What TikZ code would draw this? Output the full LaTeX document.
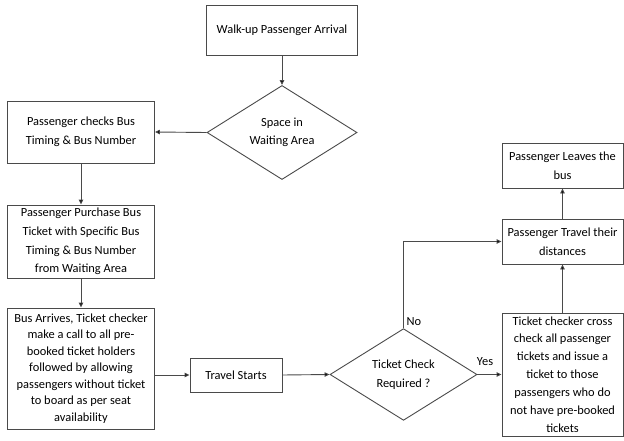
\documentclass[tikz,border=0pt]{standalone}
\usepackage{fontspec}
\setmainfont{Carlito}
\usetikzlibrary{arrows.meta,shapes.geometric}
\definecolor{edge}{HTML}{4A4A4A}
\newcommand{\txt}[1]{\fontsize{12.4}{#1}\selectfont}
\tikzset{
  box/.style={draw=edge, line width=0.9pt, fill=white, inner sep=0pt, align=center,
    font=\txt{18.8}},
  dec/.style={draw=edge, line width=0.9pt, fill=white, diamond, inner sep=0pt, align=center,
    font=\txt{18.5}},
  link/.style={draw=edge, line width=0.9pt, -{Triangle[length=5pt,width=4.5pt,fill=black]}},
  tag/.style={font=\txt{15}, inner sep=0pt}
}
\begin{document}
\begin{tikzpicture}[x=1pt,y=-1pt]
\useasboundingbox (0,0) rectangle (624,441);
\fill[white] (0,0) rectangle (624,441);

% process boxes
\node[box, minimum width=151pt, minimum height=50pt] (arrive) at (282,30) {Walk-up Passenger Arrival};
\node[box, minimum width=147pt, minimum height=62pt] (check) at (81,132) {Passenger checks Bus\\Timing \& Bus Number};
\node[box, minimum width=147pt, minimum height=73pt] (buy) at (81,241.5) {Passenger Purchase Bus\\Ticket with Specific Bus\\Timing \& Bus Number\\from Waiting Area};
\node[box, minimum width=147pt, minimum height=121pt, font=\txt{16.5}] (board) at (81,368.5) {Bus Arrives, Ticket checker\\make a call to all pre-\\booked ticket holders\\followed by allowing\\passengers without ticket\\to board as per seat\\availability};
\node[box, minimum width=92pt, minimum height=34pt] (start) at (236,375) {Travel Starts};
\node[box, minimum width=121pt, minimum height=123pt, font=\txt{17.9}] (issue) at (562.5,374.5) {Ticket checker cross\\check all passenger\\tickets and issue a\\ticket to those\\passengers who do\\not have pre-booked\\tickets};
\node[box, minimum width=121pt, minimum height=45pt] (travel) at (562.5,241.5) {Passenger Travel their\\distances};
\node[box, minimum width=121pt, minimum height=45pt] (leave) at (562.5,165.5) {Passenger Leaves the\\bus};

% decisions
\node[dec, minimum width=150pt, minimum height=85pt] (space) at (282,132.5) {Space in\\Waiting Area};
\node[dec, minimum width=147pt, minimum height=83pt] (need) at (403.5,374.5) {Ticket Check\\Required ?};

% connectors
\draw[link] (arrive.south) -- (space.north);
\draw[link] (space.west) -- (check.east);
\draw[link] (check.south) -- (buy.north);
\draw[link] (buy.south) -- (board.north);
\draw[link] (board.east |- start.west) -- (start.west);
\draw[link] (start.east) -- (need.west);
\draw[link] (need.east) -- (issue.west |- need.east);
\coordinate (bend) at (need.north |- travel.west);
\draw[link] (need.north) -- (bend) -- (travel.west);
\draw[link] (issue.north) -- (travel.south);
\draw[link] (travel.north) -- (leave.south);

% branch labels
\node[tag] (yes) at (485,362) {Yes};
\node[tag] (no) at (414,322) {No};
\end{tikzpicture}
\end{document}
